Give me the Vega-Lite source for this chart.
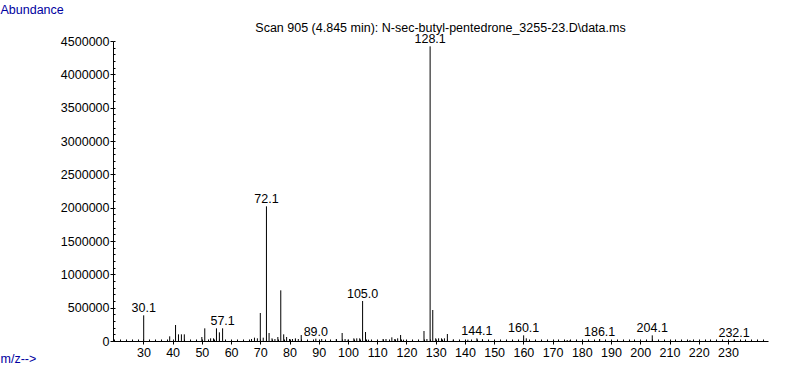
{
  "$schema": "https://vega.github.io/schema/vega-lite/v6.json",
  "width": 655,
  "height": 300,
  "autosize": {"type": "none"},
  "padding": {"left": 113, "top": 41, "right": 19, "bottom": 26},
  "background": "white",
  "title": {
    "text": "Scan 905 (4.845 min): N-sec-butyl-pentedrone_3255-23.D\\data.ms",
    "anchor": "middle",
    "frame": "group",
    "font": "Liberation Sans",
    "fontSize": 12.5,
    "fontWeight": "normal",
    "color": "black",
    "baseline": "alphabetic",
    "offset": -41
  },
  "config": {
    "view": {"stroke": null},
    "axis": {"grid": false, "domainColor": "black", "tickColor": "black", "labelColor": "black", "labelFont": "Liberation Sans", "labelFontSize": 12.5, "titleFont": "Liberation Sans", "titleFontSize": 12.5, "titleFontWeight": "normal"}
  },
  "data": {
    "values": [
      {"mz": 30.1, "ab": 385000, "lab": "30.1"},
      {"mz": 39, "ab": 70000, "lab": ""},
      {"mz": 41, "ab": 240000, "lab": ""},
      {"mz": 42, "ab": 100000, "lab": ""},
      {"mz": 43, "ab": 100000, "lab": ""},
      {"mz": 44, "ab": 100000, "lab": ""},
      {"mz": 50, "ab": 60000, "lab": ""},
      {"mz": 51, "ab": 190000, "lab": ""},
      {"mz": 53, "ab": 40000, "lab": ""},
      {"mz": 54, "ab": 40000, "lab": ""},
      {"mz": 55, "ab": 190000, "lab": ""},
      {"mz": 56, "ab": 130000, "lab": ""},
      {"mz": 57.1, "ab": 190000, "lab": "57.1"},
      {"mz": 67, "ab": 30000, "lab": ""},
      {"mz": 68, "ab": 50000, "lab": ""},
      {"mz": 69, "ab": 40000, "lab": ""},
      {"mz": 70, "ab": 420000, "lab": ""},
      {"mz": 71, "ab": 50000, "lab": ""},
      {"mz": 72.1, "ab": 2020000, "lab": "72.1"},
      {"mz": 73, "ab": 120000, "lab": ""},
      {"mz": 74, "ab": 40000, "lab": ""},
      {"mz": 75, "ab": 30000, "lab": ""},
      {"mz": 76, "ab": 60000, "lab": ""},
      {"mz": 77, "ab": 760000, "lab": ""},
      {"mz": 78, "ab": 100000, "lab": ""},
      {"mz": 79, "ab": 60000, "lab": ""},
      {"mz": 80, "ab": 30000, "lab": ""},
      {"mz": 81, "ab": 30000, "lab": ""},
      {"mz": 82, "ab": 40000, "lab": ""},
      {"mz": 83, "ab": 30000, "lab": ""},
      {"mz": 84, "ab": 90000, "lab": ""},
      {"mz": 89.0, "ab": 35000, "lab": "89.0"},
      {"mz": 91, "ab": 30000, "lab": ""},
      {"mz": 96, "ab": 30000, "lab": ""},
      {"mz": 98, "ab": 120000, "lab": ""},
      {"mz": 99, "ab": 30000, "lab": ""},
      {"mz": 100, "ab": 20000, "lab": ""},
      {"mz": 102, "ab": 40000, "lab": ""},
      {"mz": 103, "ab": 40000, "lab": ""},
      {"mz": 104, "ab": 40000, "lab": ""},
      {"mz": 105.0, "ab": 600000, "lab": "105.0"},
      {"mz": 106, "ab": 135000, "lab": ""},
      {"mz": 107, "ab": 20000, "lab": ""},
      {"mz": 112, "ab": 30000, "lab": ""},
      {"mz": 113, "ab": 30000, "lab": ""},
      {"mz": 115, "ab": 55000, "lab": ""},
      {"mz": 116, "ab": 30000, "lab": ""},
      {"mz": 117, "ab": 40000, "lab": ""},
      {"mz": 118, "ab": 90000, "lab": ""},
      {"mz": 119, "ab": 20000, "lab": ""},
      {"mz": 126, "ab": 150000, "lab": ""},
      {"mz": 127, "ab": 30000, "lab": ""},
      {"mz": 128.1, "ab": 4420000, "lab": "128.1"},
      {"mz": 129, "ab": 465000, "lab": ""},
      {"mz": 130, "ab": 40000, "lab": ""},
      {"mz": 131, "ab": 40000, "lab": ""},
      {"mz": 132, "ab": 40000, "lab": ""},
      {"mz": 133, "ab": 40000, "lab": ""},
      {"mz": 134, "ab": 105000, "lab": ""},
      {"mz": 136, "ab": 20000, "lab": ""},
      {"mz": 141, "ab": 20000, "lab": ""},
      {"mz": 144.1, "ab": 40000, "lab": "144.1"},
      {"mz": 146, "ab": 25000, "lab": ""},
      {"mz": 160.1, "ab": 85000, "lab": "160.1"},
      {"mz": 161, "ab": 40000, "lab": ""},
      {"mz": 175, "ab": 15000, "lab": ""},
      {"mz": 176, "ab": 15000, "lab": ""},
      {"mz": 186.1, "ab": 30000, "lab": "186.1"},
      {"mz": 204.1, "ab": 85000, "lab": "204.1"},
      {"mz": 217, "ab": 15000, "lab": ""},
      {"mz": 232.1, "ab": 20000, "lab": "232.1"}
    ]
  },
  "layer": [
    {
      "mark": {"type": "rule", "color": "black", "strokeWidth": 1},
      "encoding": {
        "x": {
          "field": "mz", "type": "quantitative",
          "scale": {"domain": [19.6, 243.7], "nice": false, "zero": false},
          "axis": {
            "orient": "bottom",
            "values": [30, 40, 50, 60, 70, 80, 90, 100, 110, 120, 130, 140, 150, 160, 170, 180, 190, 200, 210, 220, 230],
            "tickSize": 3, "labelPadding": 2, "labelFlush": false, "labelOverlap": false,
            "title": "m/z-->", "titleColor": "#0000a0", "titleX": -113, "titleY": 21,
            "titleAlign": "left", "titleBaseline": "alphabetic", "titleAnchor": null
          }
        },
        "y": {
          "field": "ab", "type": "quantitative",
          "scale": {"domain": [0, 4500000], "nice": false},
          "axis": {
            "orient": "left",
            "values": [0, 500000, 1000000, 1500000, 2000000, 2500000, 3000000, 3500000, 4000000, 4500000],
            "format": "d", "tickSize": 3, "labelPadding": 1, "labelFlush": false, "labelOverlap": false,
            "title": "Abundance", "titleColor": "#0000a0", "titleAngle": 0, "titleX": -113, "titleY": -28,
            "titleAlign": "left", "titleBaseline": "alphabetic", "titleAnchor": null
          }
        },
        "y2": {"datum": 0}
      }
    },
    {
      "transform": [{"filter": "datum.lab != ''"}],
      "mark": {"type": "text", "color": "black", "font": "Liberation Sans", "fontSize": 12.5, "baseline": "alphabetic", "align": "center", "dy": -3},
      "encoding": {
        "x": {
          "field": "mz", "type": "quantitative",
          "axis": {
            "orient": "bottom",
            "values": [20, 22, 24, 26, 28, 30, 32, 34, 36, 38, 40, 42, 44, 46, 48, 50, 52, 54, 56, 58, 60, 62, 64, 66, 68, 70, 72, 74, 76, 78, 80, 82, 84, 86, 88, 90, 92, 94, 96, 98, 100, 102, 104, 106, 108, 110, 112, 114, 116, 118, 120, 122, 124, 126, 128, 130, 132, 134, 136, 138, 140, 142, 144, 146, 148, 150, 152, 154, 156, 158, 160, 162, 164, 166, 168, 170, 172, 174, 176, 178, 180, 182, 184, 186, 188, 190, 192, 194, 196, 198, 200, 202, 204, 206, 208, 210, 212, 214, 216, 218, 220, 222, 224, 226, 228, 230, 232, 234, 236, 238, 240, 242],
            "labels": false, "domain": false, "tickSize": -2, "title": null
          }
        },
        "y": {
          "field": "ab", "type": "quantitative",
          "axis": {
            "orient": "left",
            "values": [0, 100000, 200000, 300000, 400000, 500000, 600000, 700000, 800000, 900000, 1000000, 1100000, 1200000, 1300000, 1400000, 1500000, 1600000, 1700000, 1800000, 1900000, 2000000, 2100000, 2200000, 2300000, 2400000, 2500000, 2600000, 2700000, 2800000, 2900000, 3000000, 3100000, 3200000, 3300000, 3400000, 3500000, 3600000, 3700000, 3800000, 3900000, 4000000, 4100000, 4200000, 4300000, 4400000, 4500000],
            "labels": false, "domain": false, "tickSize": -2, "title": null
          }
        },
        "text": {"field": "lab"}
      }
    }
  ],
  "resolve": {"axis": {"x": "independent", "y": "independent"}}
}
